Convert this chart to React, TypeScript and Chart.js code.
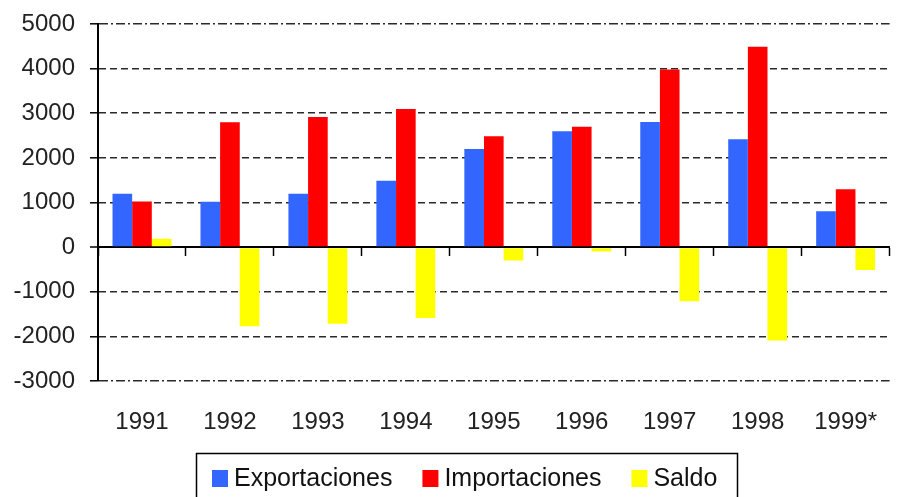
import { useEffect, useRef } from 'react';
import { Chart, registerables } from 'chart.js';

Chart.register(...registerables);

const years = ['1991', '1992', '1993', '1994', '1995', '1996', '1997', '1998', '1999*'];
const exportaciones = [1195, 1015, 1195, 1485, 2200, 2595, 2805, 2415, 805];
const importaciones = [1022, 2797, 2917, 3096, 2483, 2700, 3982, 4490, 1298];
const saldo = [188, -1774, -1715, -1588, -298, -96, -1215, -2095, -514];
const yMin = -3000;
const yMax = 5000;
const yStep = 1000;

const FONT = '"Liberation Sans", Arial, sans-serif';

const boxLegend = {
  id: 'boxLegend',
  afterDraw(chart: any) {
    const ctx = chart.ctx as CanvasRenderingContext2D;
    ctx.save();
    ctx.font = `25px ${FONT}`;
    ctx.textBaseline = 'middle';
    ctx.strokeStyle = '#000';
    ctx.lineWidth = 1.5;
    ctx.strokeRect(196.5, 453.5, 541, 80);
    let x = 212;
    chart.data.datasets.forEach((ds: any) => {
      ctx.fillStyle = ds.backgroundColor;
      ctx.fillRect(x, 470, 16, 17);
      ctx.fillStyle = '#111';
      ctx.fillText(ds.label, x + 22, 479);
      x += 22 + ctx.measureText(ds.label).width + 30;
    });
    ctx.restore();
  },
};

function ChartView() {
  const ref = useRef<HTMLCanvasElement | null>(null);
  useEffect(() => {
    if (!ref.current) return;
    const chart = new Chart(ref.current, {
      type: 'bar',
      data: {
        labels: years,
        datasets: [
          { label: 'Exportaciones', data: exportaciones, backgroundColor: '#3366FF' },
          { label: 'Importaciones', data: importaciones, backgroundColor: '#FF0000' },
          { label: 'Saldo', data: saldo, backgroundColor: '#FFFF00' },
        ],
      },
      options: {
        responsive: false,
        animation: false,
        devicePixelRatio: 1,
        layout: { padding: { top: 24, right: 0, bottom: 0, left: 0 } },
        datasets: { bar: { categoryPercentage: 0.67, barPercentage: 1.0 } },
        plugins: { legend: { display: false }, tooltip: { enabled: false } },
        scales: {
          x: {
            type: 'category',
            offset: true,
            grid: { display: false, drawTicks: false },
            border: { display: false },
            ticks: { color: '#222', font: { family: FONT, size: 24 }, padding: 27, maxRotation: 0 },
            afterFit: (s: any) => { s.height = 116; },
          },
          x2: {
            type: 'category',
            position: { y: 0 } as any,
            offset: true,
            z: 1,
            grid: { offset: true, drawOnChartArea: false, drawTicks: true, tickLength: 8, tickColor: '#000', tickWidth: 1.5 },
            border: { display: true, color: '#000', width: 2 },
            ticks: { display: false },
          },
          y: {
            min: yMin,
            max: yMax,
            ticks: {
              stepSize: yStep,
              color: '#222',
              padding: 15,
              font: { family: FONT, size: 24 },
              callback: (v: any) => String(v),
            },
            grid: {
              color: (c: any) => (c.tick && c.tick.value === 0 ? '#000' : '#2a2a2a'),
              lineWidth: (c: any) => (c.tick && c.tick.value === 0 ? 2 : 1.6),
              drawTicks: true,
              tickLength: 8,
              tickColor: '#000',
              tickWidth: 1.5,
            },
            border: {
              display: true,
              color: '#000',
              width: 2,
              dash: (c: any) => {
                if (!c.tick) return [];
                const v = c.tick.value;
                if (v === 0) return [];
                if (v === yMax || v === yMin) return [9, 3, 2, 3];
                return [7, 4];
              },
            },
            afterFit: (s: any) => {
              s.width = 98;
              s.paddingTop = 0;
              s.paddingBottom = 0;
            },
          },
        },
      },
      plugins: [boxLegend],
    } as any);
    return () => chart.destroy();
  }, []);
  return <canvas ref={ref} width={904} height={497} style={{ display: 'block' }} />;
}

export default function App() {
  return (
    <div style={{ position: 'fixed', left: 0, top: 0, width: 901, height: 497, overflow: 'hidden', background: '#fff' }}>
      <ChartView />
    </div>
  );
}
